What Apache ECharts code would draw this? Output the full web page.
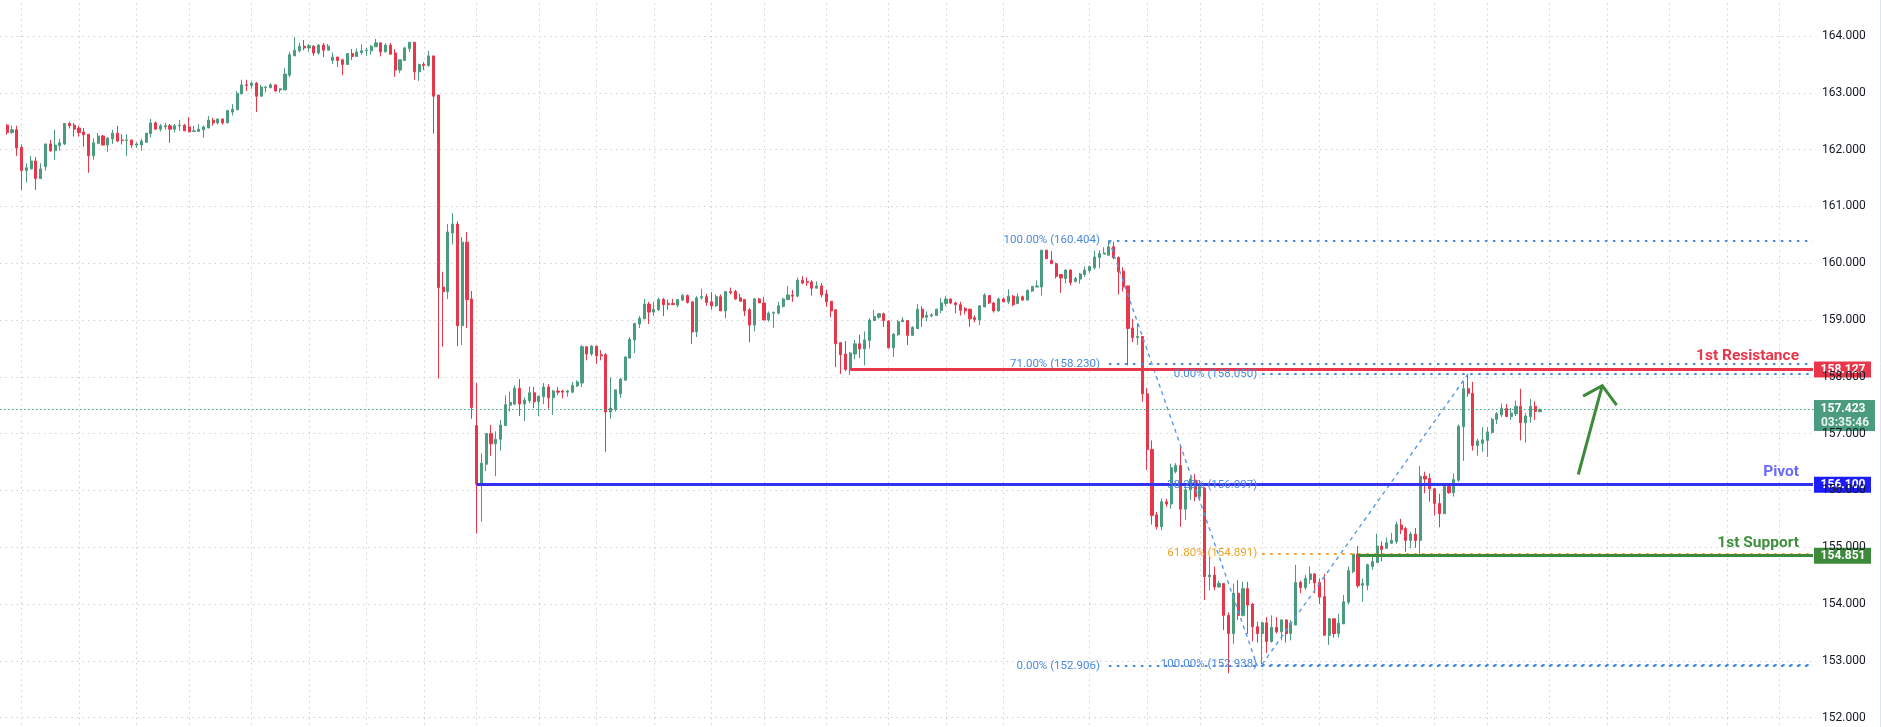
<!DOCTYPE html>
<html><head><meta charset="utf-8">
<script src="https://cdn.jsdelivr.net/npm/echarts/dist/echarts.min.js"></script>
<style>html,body{margin:0;padding:0;background:#fff}#main{width:1881px;height:727px}</style>
</head><body><div id="main"></div>
<script>
// ---- DATA ----
// candles: [open, close, low, high]
const ohlc = [
[162.43,162.30,162.26,162.45],[162.30,162.35,162.28,162.42],[162.35,162.03,161.89,162.42],[162.04,161.63,161.29,162.09],
[161.63,161.68,161.42,161.76],[161.66,161.80,161.65,161.89],[161.80,161.49,161.29,161.87],[161.49,161.66,161.49,161.76],
[161.70,162.10,161.63,162.10],[162.10,161.98,161.96,162.17],[161.98,162.08,161.82,162.35],[162.07,162.12,161.98,162.19],
[162.10,162.46,162.08,162.46],[162.46,162.42,162.37,162.49],[162.43,162.36,162.23,162.47],[162.38,162.30,162.23,162.42],
[162.31,162.26,162.05,162.38],[162.27,161.89,161.59,162.27],[161.89,162.12,161.82,162.20],[162.11,162.24,162.11,162.29],
[162.24,162.08,162.08,162.26],[162.08,162.20,161.96,162.22],[162.19,162.29,162.10,162.35],[162.29,162.15,162.13,162.42],
[162.17,162.16,162.09,162.27],[162.16,162.17,161.89,162.27],[162.17,162.08,162.03,162.17],[162.08,162.10,162.03,162.13],
[162.08,162.15,161.98,162.19],[162.13,162.29,162.12,162.29],[162.28,162.47,162.21,162.54],[162.47,162.36,162.35,162.50],
[162.36,162.42,162.32,162.45],[162.40,162.42,162.35,162.47],[162.42,162.36,162.12,162.45],[162.36,162.42,162.30,162.45],
[162.42,162.43,162.33,162.52],[162.43,162.33,162.33,162.45],[162.40,162.31,162.31,162.57],[162.32,162.33,162.32,162.42],
[162.32,162.36,162.32,162.45],[162.35,162.40,162.21,162.42],[162.38,162.52,162.38,162.59],[162.52,162.47,162.42,162.56],
[162.47,162.54,162.44,162.54],[162.54,162.47,162.44,162.54],[162.47,162.69,162.47,162.70],[162.66,162.71,162.60,162.80],
[162.70,162.99,162.70,163.03],[162.98,163.14,162.98,163.23],[163.14,163.13,163.03,163.23],[163.13,163.17,163.07,163.20],
[163.17,162.94,162.66,163.19],[162.94,163.10,162.94,163.14],[163.09,163.10,163.01,163.12],[163.09,163.14,163.08,163.17],
[163.14,163.03,163.03,163.14],[163.05,163.07,163.00,163.08],[163.05,163.33,163.05,163.44],[163.31,163.67,163.28,163.72],
[163.65,163.75,163.65,163.98],[163.74,163.82,163.71,163.88],[163.82,163.79,163.75,163.93],[163.79,163.83,163.72,163.86],
[163.82,163.70,163.65,163.84],[163.70,163.84,163.67,163.86],[163.84,163.75,163.63,163.88],[163.75,163.82,163.75,163.86],
[163.57,163.63,163.51,163.71],[163.63,163.57,163.46,163.63],[163.58,163.50,163.31,163.60],[163.50,163.69,163.50,163.70],
[163.69,163.64,163.58,163.77],[163.64,163.72,163.64,163.78],[163.71,163.74,163.67,163.85],[163.74,163.75,163.65,163.79],
[163.74,163.82,163.67,163.84],[163.81,163.88,163.81,163.95],[163.88,163.72,163.64,163.88],[163.72,163.84,163.72,163.87],
[163.84,163.68,163.67,163.88],[163.70,163.40,163.28,163.77],[163.40,163.58,163.35,163.58],[163.57,163.79,163.57,163.81],
[163.78,163.89,163.72,163.89],[163.89,163.37,163.23,163.89],[163.37,163.50,163.21,163.51],[163.50,163.48,163.40,163.54],
[163.48,163.65,163.46,163.74],[163.65,162.94,162.28,163.65],[162.96,159.57,157.97,162.96],[159.58,159.50,158.53,159.85],
[159.50,160.55,159.37,160.69],[160.53,160.69,160.33,160.88],[160.69,158.90,158.54,160.74],[158.90,160.37,158.56,160.46],
[160.37,159.36,158.86,160.55],[159.37,157.46,157.26,159.51],[157.14,156.11,155.24,157.89],[156.11,156.48,155.45,156.65],
[156.46,157.00,156.34,157.00],[157.00,156.82,156.61,157.15],[156.82,156.90,156.25,157.04],[156.90,157.15,156.70,157.24],
[157.14,157.51,157.14,157.67],[157.50,157.55,157.39,157.74],[157.52,157.80,157.50,157.85],[157.80,157.52,157.31,157.96],
[157.52,157.59,157.22,157.64],[157.58,157.72,157.54,157.83],[157.72,157.56,157.45,157.82],[157.56,157.66,157.31,157.66],
[157.65,157.82,157.52,157.89],[157.82,157.63,157.44,157.87],[157.63,157.75,157.33,157.77],[157.75,157.73,157.68,157.82],
[157.75,157.73,157.62,157.77],[157.73,157.75,157.65,157.77],[157.73,157.85,157.71,157.91],[157.84,157.91,157.82,157.94],
[157.89,158.53,157.82,158.56],[158.53,158.40,158.29,158.53],[158.40,158.54,158.37,158.56],[158.54,158.37,158.23,158.54],
[158.39,158.37,158.29,158.47],[158.39,157.38,156.68,158.42],[157.38,157.45,157.26,157.99],[157.43,157.77,157.39,157.77],
[157.70,157.96,157.63,157.98],[157.94,158.35,157.94,158.35],[158.33,158.66,158.32,158.70],[158.65,158.94,158.42,158.94],
[158.93,159.03,158.86,159.07],[159.02,159.28,159.02,159.37],[159.28,159.14,158.93,159.32],[159.14,159.19,159.07,159.32],
[159.18,159.36,159.16,159.39],[159.36,159.27,159.07,159.39],[159.29,159.27,159.18,159.36],[159.29,159.27,159.27,159.37],
[159.26,159.36,159.22,159.37],[159.35,159.43,159.33,159.46],[159.43,159.31,159.29,159.45],[159.32,158.79,158.58,159.32],
[158.79,159.39,158.70,159.42],[159.39,159.41,159.36,159.55],[159.41,159.31,159.25,159.46],[159.32,159.25,159.18,159.49],
[159.25,159.41,159.23,159.45],[159.41,159.16,159.16,159.45],[159.16,159.50,159.03,159.51],[159.50,159.48,159.45,159.57],
[159.50,159.37,159.36,159.53],[159.39,159.33,159.33,159.46],[159.36,159.16,159.07,159.37],[159.18,158.91,158.61,159.21],
[158.91,159.37,158.80,159.39],[159.37,159.30,159.30,159.39],[159.30,159.00,159.00,159.41],[159.00,159.12,158.97,159.15],
[159.12,159.13,158.86,159.15],[159.12,159.25,159.10,159.32],[159.24,159.37,159.22,159.39],[159.36,159.44,159.36,159.60],
[159.44,159.42,159.32,159.53],[159.42,159.70,159.40,159.75],[159.70,159.65,159.63,159.77],[159.68,159.66,159.60,159.75],
[159.67,159.56,159.43,159.70],[159.56,159.60,159.56,159.68],[159.60,159.44,159.40,159.65],[159.46,159.32,159.23,159.53],
[159.33,159.16,159.05,159.33],[159.18,158.58,158.17,159.18],[158.60,158.39,158.05,158.61],[158.40,158.13,158.10,158.63],
[158.12,158.42,158.03,158.44],[158.40,158.58,158.31,158.65],[158.58,158.49,158.33,158.74],[158.49,158.65,158.20,158.80],
[158.64,159.00,158.50,159.03],[158.99,159.06,158.98,159.18],[159.05,159.11,159.02,159.12],[159.11,158.99,158.88,159.13],
[158.98,158.51,158.50,159.00],[158.51,158.75,158.35,158.77],[158.74,158.97,158.72,159.00],[158.97,159.00,158.97,159.05],
[158.99,158.73,158.56,158.99],[158.73,158.87,158.72,158.89],[158.85,159.19,158.85,159.28],[159.19,159.04,158.88,159.24],
[159.05,159.08,158.98,159.15],[159.07,159.09,159.05,159.12],[159.08,159.19,159.07,159.20],[159.17,159.30,159.12,159.39],
[159.29,159.37,159.25,159.42],[159.37,159.30,159.28,159.38],[159.30,159.27,159.12,159.32],[159.27,159.17,159.08,159.32],
[159.20,159.16,159.10,159.23],[159.19,159.02,158.88,159.20],[159.04,159.01,158.96,159.08],[159.00,159.25,158.91,159.26],
[159.23,159.44,159.23,159.47],[159.43,159.30,159.28,159.44],[159.30,159.16,159.13,159.31],[159.16,159.37,159.15,159.40],
[159.37,159.32,159.31,159.40],[159.32,159.42,159.28,159.54],[159.42,159.27,159.24,159.44],[159.29,159.41,159.28,159.47],
[159.41,159.35,159.34,159.43],[159.35,159.52,159.35,159.54],[159.51,159.59,159.49,159.60],[159.58,159.60,159.58,159.70],
[159.58,160.23,159.43,160.23],[160.23,160.08,160.08,160.23],[160.05,159.99,159.99,160.21],[159.99,159.77,159.73,160.01],
[159.80,159.74,159.48,159.81],[159.73,159.88,159.64,159.89],[159.88,159.66,159.61,159.89],[159.68,159.73,159.66,159.76],
[159.72,159.81,159.64,159.83],[159.80,159.88,159.76,159.94],[159.87,159.94,159.83,159.96],[159.92,160.11,159.89,160.22],
[160.10,160.17,159.91,160.23],[160.16,160.18,160.16,160.28],[160.14,160.29,160.14,160.40],[160.29,160.10,160.07,160.38],
[160.10,159.85,159.45,160.12],[159.86,159.58,159.50,159.93],[159.60,158.85,158.20,159.60],[158.86,158.69,158.61,159.02],
[158.69,158.71,158.56,158.94],[158.71,157.70,157.56,158.71],[157.70,156.72,156.36,157.80],[156.72,155.56,155.40,156.88],
[155.57,155.36,155.31,155.62],[155.36,155.80,155.30,155.86],[155.80,155.76,155.71,155.85],[155.76,156.40,155.68,156.47],
[156.33,156.44,156.30,156.48],[156.44,155.67,155.36,156.77],[155.67,156.01,155.48,156.06],[156.01,156.20,155.83,156.24],
[156.18,155.89,155.81,156.29],[155.89,156.07,155.83,156.18],[156.04,154.48,154.07,156.06],[154.48,154.51,154.24,154.83],
[154.51,154.30,154.24,154.66],[154.30,154.36,154.29,154.41],[154.36,153.80,153.54,154.36],[153.80,153.48,152.78,153.85],
[153.48,154.19,153.30,154.36],[154.19,153.80,153.72,154.42],[153.80,154.27,153.78,154.39],[154.27,153.98,153.47,154.39],
[154.00,153.60,153.34,154.02],[153.60,153.48,153.32,153.69],[153.48,153.67,152.94,153.69],[153.67,153.34,153.14,153.77],
[153.34,153.59,153.32,153.80],[153.59,153.51,153.48,153.77],[153.51,153.72,153.36,153.73],[153.72,153.48,153.32,153.73],
[153.48,153.66,153.36,153.72],[153.63,154.38,153.63,154.69],[154.38,154.29,154.19,154.41],[154.29,154.45,154.25,154.51],
[154.43,154.53,154.36,154.66],[154.53,154.37,154.19,154.54],[154.38,154.12,154.00,154.45],[154.13,153.45,153.45,154.53],
[153.45,153.74,153.28,153.75],[153.74,153.48,153.41,153.74],[153.48,153.66,153.41,153.83],[153.65,154.04,153.65,154.16],
[154.03,154.59,153.99,154.66],[154.57,154.88,154.54,154.88],[154.88,154.32,154.28,155.02],[154.33,154.36,154.04,154.45],
[154.33,154.69,154.24,154.71],[154.66,154.75,154.60,154.84],[154.73,155.02,154.73,155.24],[155.02,154.96,154.75,155.10],
[154.98,155.08,154.97,155.17],[155.07,155.12,155.06,155.25],[155.10,155.40,155.06,155.45],[155.39,155.31,155.23,155.50],
[155.33,155.12,154.92,155.36],[155.12,155.23,154.98,155.27],[155.23,155.12,154.99,155.34],[155.12,156.25,154.85,156.43],
[156.25,156.20,155.95,156.33],[156.21,156.03,155.80,156.30],[156.03,155.77,155.56,156.03],[155.77,155.59,155.35,155.94],
[155.59,156.07,155.59,156.11],[156.07,155.96,155.94,156.11],[155.96,156.19,155.89,156.30],[156.18,157.13,156.15,157.16],
[157.12,157.79,156.52,157.91],[157.79,157.71,157.65,158.05],[157.71,156.79,156.70,157.91],[156.79,156.87,156.61,156.91],
[156.83,156.89,156.68,157.11],[156.88,157.03,156.59,157.11],[157.02,157.25,157.00,157.28],[157.25,157.35,157.17,157.38],
[157.33,157.44,157.29,157.53],[157.44,157.30,157.29,157.52],[157.30,157.36,157.24,157.45],[157.35,157.48,157.31,157.58],
[157.48,157.19,156.88,157.79],[157.19,157.31,156.84,157.36],[157.30,157.48,157.19,157.61],[157.48,157.39,157.24,157.57],
[157.39,157.423,157.37,157.44]
];
const categoryCount = 379;            // bar slots incl. empty future space
const firstCandleSlot = 1;
const categories = Array.from({length: categoryCount}, (_, i) => String(i));
const yMin = 151, yMax = 165, yStep = 1;   // price scale (164.000 ... 152.000 visible)
const timeGridSlots = [4,16,28,39,52,64,76,88,99,112,124,136,148,159,172,185,197,209,227,239,250,263,275,287,299,310,323,335,348,360,371];

// Fibonacci retracement #1 (160.404 -> 152.906)
const fibALevels = [
  {text: '100.00% (160.404)', value: 160.404, color: '#4a89dc'},
  {text: '71.00% (158.230)',  value: 158.230, color: '#4a89dc'},
  {text: '0.00% (152.906)',   value: 152.906, color: '#4a89dc'}
];
const fibAAnchors = [[231, 160.404], [262, 152.906]];
// Fibonacci retracement #2 (158.050 -> 152.938)
const fibBLevels = [
  {text: '0.00% (158.050)',   value: 158.050, color: '#4a89dc'},
  {text: '38.20% (156.097)',  value: 156.097, color: '#4a89dc'},
  {text: '61.80% (154.891)',  value: 154.891, color: '#eea31e'},
  {text: '100.00% (152.938)', value: 152.938, color: '#4a89dc'}
];
const fibBAnchors = [[263, 152.938], [306, 158.050]];

// Key levels
const keyLevels = [
  {name: '1st Resistance', value: 158.127, startSlot: 177, line: '#e8364a', text: '#e8364a', tag: '#e8364a'},
  {name: 'Pivot',          value: 156.100, startSlot: 99,  line: '#3232f0', text: '#6a6aff', tag: '#1c1cff'},
  {name: '1st Support',    value: 154.851, startSlot: 283, line: '#3d8b3a', text: '#3f903c', tag: '#3d8b3a'}
];
const currentPrice = 157.423;
const countdown = '03:35:46';
const arrowShaft = [[329, 156.28], [334, 157.845]];
const arrowHead  = [[330, 157.66], [334, 157.845], [337, 157.50]];

// ---- STYLE ----
const UP = '#4b9c7f', DOWN = '#e8364a';
const GRID_RIGHT = 65.6;
const lastSlot = categoryCount - 1;
const FONT = 'Roboto';

const candleData = ohlc.map((d, i) => [i + firstCandleSlot, d[0], d[1], d[2], d[3]]);

const annotationLines = [];
fibALevels.forEach(l => annotationLines.push([
  {coord: [fibAAnchors[0][0], l.value], lineStyle: {color: l.color, width: 2, type: [2.5, 5.5]},
   label: {show: true, position: 'start', distance: 9, formatter: l.text, color: l.color, fontSize: 11.5, fontFamily: FONT}},
  {coord: [lastSlot, l.value]}
]));
fibBLevels.forEach(l => annotationLines.push([
  {coord: [fibBAnchors[0][0], l.value], lineStyle: {color: l.color, width: 2, type: [2.5, 5.5]},
   label: {show: true, position: 'start', distance: 5, formatter: l.text, color: l.color, fontSize: 11.5, fontFamily: FONT}},
  {coord: [lastSlot, l.value]}
]));
[fibAAnchors, fibBAnchors].forEach(a => annotationLines.push([
  {coord: a[0], lineStyle: {color: '#5a9ae6', width: 1.4, type: [4, 4]}, label: {show: false}},
  {coord: a[1]}
]));
annotationLines.push({yAxis: currentPrice, lineStyle: {color: UP, width: 1, type: [1.5, 2.5]}, label: {show: false}});
keyLevels.forEach(l => annotationLines.push([
  {coord: [l.startSlot, l.value], lineStyle: {color: l.line, width: 3, type: 'solid'},
   label: {show: true, position: 'insideEndTop', distance: [14, 5], formatter: l.name, color: l.text,
           fontSize: 15.5, fontWeight: 'bold', fontFamily: FONT}},
  {coord: [lastSlot, l.value]}
]));

const option = {
  animation: false,
  backgroundColor: '#ffffff',
  grid: {left: 0, right: GRID_RIGHT, top: -20.8, bottom: -47.4, containLabel: false, outerBoundsMode: 'none'},
  xAxis: {
    type: 'category', data: categories, boundaryGap: true,
    axisLine: {show: false}, axisTick: {show: false}, axisLabel: {show: false}, splitLine: {show: false}
  },
  yAxis: {
    type: 'value', position: 'right', min: yMin, max: yMax, interval: yStep, scale: true,
    axisLine: {show: false}, axisTick: {show: false},
    axisLabel: {formatter: v => v.toFixed(3), margin: 6.6, color: '#131722', fontSize: 12, fontFamily: FONT},
    splitLine: {show: true, lineStyle: {color: '#d0d0d0', width: 1, type: [1.5, 4]}}
  },
  series: [
    {
      type: 'line', data: [], z: 1, silent: true,
      markLine: {
        silent: true, z: 1, symbol: ['none', 'none'], animation: false,
        label: {show: false},
        lineStyle: {color: '#d0d0d0', width: 1, type: [1.5, 4]},
        data: timeGridSlots.map(c => ({xAxis: c}))
      }
    },
    {
      type: 'candlestick', z: 2, barWidth: 2.6,
      encode: {x: 0, y: [1, 2, 3, 4]},
      data: candleData,
      itemStyle: {color: UP, color0: DOWN, borderColor: UP, borderColor0: DOWN, borderWidth: 1},
      markLine: {
        silent: true, z: 5, symbol: ['none', 'none'], animation: false,
        label: {show: false},
        data: annotationLines
      }
    },
    {
      type: 'line', data: arrowShaft, z: 6, silent: true, showSymbol: false, symbol: 'none',
      lineStyle: {color: '#3d8b3a', width: 3}
    },
    {
      type: 'line', data: arrowHead, z: 6, silent: true, showSymbol: false, symbol: 'none',
      lineStyle: {color: '#3d8b3a', width: 3, join: 'miter'}
    }
  ]
};

const chart = echarts.init(document.getElementById('main'), null, {renderer: 'canvas'});
chart.setOption(option);

// price tags on the right scale, positioned through the y scale
const tagLeft = chart.getWidth() - GRID_RIGHT - 1.4;
const tags = keyLevels.map(l => ({value: l.value, text: l.value.toFixed(3), bg: l.tag}));
tags.splice(1, 0, {value: currentPrice, text: currentPrice.toFixed(3), sub: countdown, bg: UP});
const graphics = tags.map(t => {
  const py = chart.convertToPixel({yAxisIndex: 0}, t.value);
  const w = t.sub ? 61 : 57;
  const h = t.sub ? 31 : 16;
  const top = t.sub ? py - 9.5 : py - 8;
  const children = [
    {type: 'rect', shape: {x: 0, y: 0, width: w, height: h}, style: {fill: t.bg}},
    {type: 'text', style: {x: 29, y: t.sub ? 8.5 : 8, text: t.text, fill: '#ffffff', font: 'bold 12px ' + FONT,
      align: 'center', verticalAlign: 'middle', textAlign: 'center', textVerticalAlign: 'middle'}}
  ];
  if (t.sub) children.push({type: 'text', style: {x: 31, y: 22.5, text: t.sub, fill: '#e6f3ee', font: 'bold 12px ' + FONT,
      align: 'center', verticalAlign: 'middle', textAlign: 'center', textVerticalAlign: 'middle'}});
  return {type: 'group', x: tagLeft, y: top, z: 100, children};
});
graphics.push({type: 'line', z: 100, shape: {x1: chart.getWidth() - 0.5, y1: 0, x2: chart.getWidth() - 0.5, y2: chart.getHeight()},
  style: {stroke: '#e0e3eb', lineWidth: 1}});
chart.setOption({graphic: graphics});
</script>
</body></html>
